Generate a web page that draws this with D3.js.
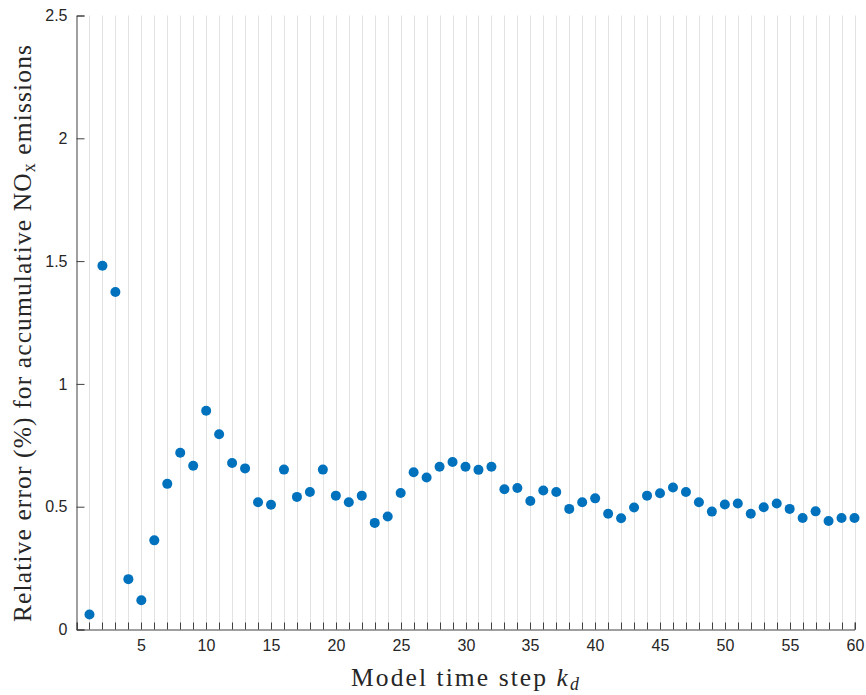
<!DOCTYPE html>
<html>
<head>
<meta charset="utf-8">
<script src="https://cdn.jsdelivr.net/npm/d3@7"></script>
<style>
  html, body { margin: 0; padding: 0; background: #fff; }
  svg { display: block; }
</style>
</head>
<body>
<svg id="chart" width="866" height="695"></svg>
<script>
// ---- data ----
const steps = [1,2,3,4,5,6,7,8,9,10,11,12,13,14,15,16,17,18,19,20,
               21,22,23,24,25,26,27,28,29,30,31,32,33,34,35,36,37,38,39,40,
               41,42,43,44,45,46,47,48,49,50,51,52,53,54,55,56,57,58,59,60];
const relError = [0.061,1.481,1.374,0.205,0.119,0.363,0.593,0.720,0.667,0.891,
                  0.795,0.678,0.656,0.518,0.508,0.651,0.540,0.560,0.651,0.545,
                  0.518,0.545,0.434,0.460,0.556,0.640,0.619,0.663,0.682,0.663,
                  0.650,0.663,0.571,0.576,0.523,0.566,0.560,0.491,0.518,0.534,
                  0.471,0.453,0.497,0.545,0.555,0.578,0.560,0.518,0.480,0.509,
                  0.513,0.471,0.498,0.513,0.491,0.454,0.481,0.442,0.454,0.454];
const xTickLabels = [5,10,15,20,25,30,35,40,45,50,55,60];
const yTicks = [0,0.5,1,1.5,2,2.5];
const xDomain = [0, 60];
const yDomain = [0, 2.5];

// ---- layout ----
const svg = d3.select("#chart");
const pLeft = 76.5, pRight = 854.5, pTop = 15.5, pBottom = 629.5;
const x = d3.scaleLinear().domain(xDomain).range([pLeft, pRight]);
const y = d3.scaleLinear().domain(yDomain).range([pBottom, pTop]);
const axisColor = "#404040";
const textColor = "#262626";

// grid (vertical, every integer step)
svg.append("g").selectAll("line")
  .data(steps)
  .join("line")
  .attr("x1", d => Math.round(x(d)) + 0.5).attr("x2", d => Math.round(x(d)) + 0.5)
  .attr("y1", y(yDomain[0])).attr("y2", y(yDomain[1]))
  .attr("stroke", "#e3e3e3").attr("stroke-width", 1);

// x axis
const xAxis = d3.axisBottom(x)
  .tickValues(d3.range(0, 61))
  .tickSize(-7)
  .tickPadding(10)
  .tickFormat(d => xTickLabels.includes(d) ? d : "");
const gx = svg.append("g").attr("transform", `translate(0,${pBottom})`).call(xAxis);
gx.select(".domain").attr("stroke", axisColor);
gx.selectAll(".tick line").attr("stroke", axisColor);
gx.selectAll(".tick text").attr("fill", textColor)
  .style("font-family", "'Liberation Sans', Arial, sans-serif").style("font-size", "16px");
gx.selectAll(".tick").attr("transform", d => `translate(${Math.round(x(d)) + 0.5},0)`);

// y axis
const yAxis = d3.axisLeft(y)
  .tickValues(yTicks)
  .tickSize(-8)
  .tickPadding(9)
  .tickFormat(d => d3.format("~g")(d));
const gy = svg.append("g").attr("transform", `translate(${pLeft},0)`).call(yAxis);
gy.select(".domain").attr("stroke", axisColor);
gy.selectAll(".tick line").attr("stroke", axisColor);
gy.selectAll(".tick text").attr("fill", textColor)
  .style("font-family", "'Liberation Sans', Arial, sans-serif").style("font-size", "16px");

// points
svg.append("g").selectAll("circle")
  .data(steps.map((s, i) => ({s, v: relError[i]})))
  .join("circle")
  .attr("cx", d => x(d.s))
  .attr("cy", d => y(d.v))
  .attr("r", 5)
  .attr("fill", "#0072BD");

// labels
const serif = "'Liberation Serif', 'Times New Roman', serif";
function fitSpacing(sel, target, nChars) {
  const len = sel.node().getComputedTextLength();
  const ls = (target - len) / nChars;
  sel.style("letter-spacing", ls + "px");
}

const xl = svg.append("text")
  .attr("x", 466).attr("y", 686)
  .attr("text-anchor", "middle")
  .attr("fill", textColor)
  .style("font-family", serif).style("font-size", "25.5px");
xl.append("tspan").text("Model time step ");
xl.append("tspan").attr("font-style", "italic").text("k");
xl.append("tspan").attr("font-style", "italic").attr("font-size", "0.7em").attr("dy", "0.2em").text("d");
fitSpacing(xl, 232, 19);

const yl = svg.append("text")
  .attr("transform", "translate(31,333) rotate(-90)")
  .attr("text-anchor", "middle")
  .attr("fill", textColor)
  .style("font-family", serif).style("font-size", "25.5px");
yl.append("tspan").text("Relative error (%) for accumulative NO");
yl.append("tspan").attr("font-size", "0.7em").attr("dy", "0.25em").text("x");
yl.append("tspan").attr("dy", "-0.18em").text(" emissions");
fitSpacing(yl, 577, 48);
</script>
</body>
</html>
